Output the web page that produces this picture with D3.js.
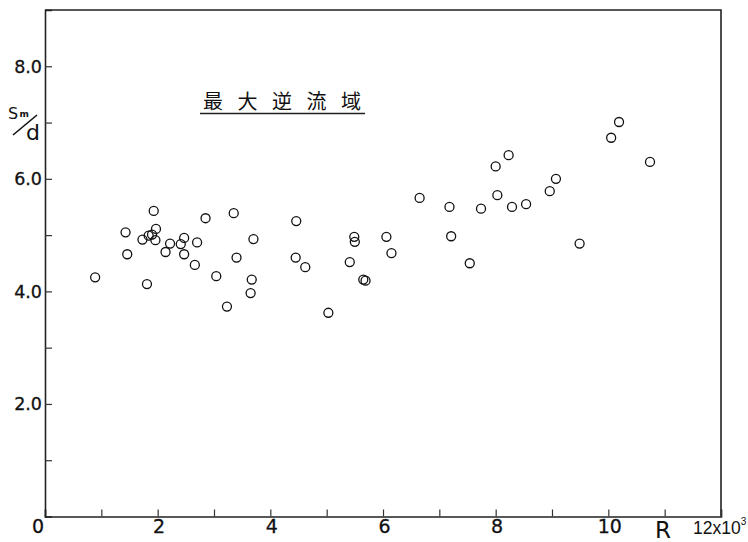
<!DOCTYPE html>
<html><head><meta charset="utf-8">
<script src="https://cdn.jsdelivr.net/npm/d3@7"></script>
<style>
body{margin:0;background:#fff;}
svg{display:block;}
</style></head>
<body>
<svg id="chart" width="748" height="542"></svg>
<script>
// Data: R (x10^3) and Sm/d
const rValues = [0.89,1.43,1.46,1.73,1.81,1.84,1.90,1.93,1.96,1.97,2.14,2.22,2.41,2.47,2.47,2.66,2.70,2.85,3.04,3.23,3.35,3.40,3.65,3.67,3.70,4.45,4.46,4.62,5.03,5.41,5.49,5.50,5.65,5.69,6.06,6.15,6.65,7.18,7.21,7.54,7.74,8.00,8.03,8.23,8.29,8.54,8.96,9.07,9.49,10.05,10.19,10.74];
const smdValues = [4.25,5.05,4.66,4.92,4.13,4.99,5.01,5.43,4.91,5.11,4.70,4.85,4.84,4.95,4.66,4.47,4.87,5.30,4.27,3.73,5.39,4.60,3.97,4.21,4.93,4.60,5.25,4.43,3.62,4.52,4.97,4.88,4.21,4.19,4.97,4.68,5.66,5.50,4.98,4.50,5.47,6.22,5.71,6.42,5.50,5.55,5.78,6.00,4.85,6.73,7.01,6.30];
const xTicks = [0,1,2,3,4,5,6,7,8,9,10,11,12];
const xTickLabels = ["0","2","4","6","8","10"];
const xTickLabelValues = [0,2,4,6,8,10];
const yTicks = [1,2,3,4,5,6,7,8];
const yTickLabels = ["2.0","4.0","6.0","8.0"];
const yTickLabelValues = [2,4,6,8];
const titleText = "最大逆流域";

const svg = d3.select("#chart");
const x = d3.scaleLinear().domain([0,12]).range([45,721]);
const y = d3.scaleLinear().domain([0,9]).range([516.5,10]);
const font = "'DejaVu Sans', sans-serif";

// frame (top & right)
svg.append("path")
  .attr("d", `M${x(0)},${y(9)}H${x(12)}V${y(0)}`)
  .attr("fill","none").attr("stroke","#222").attr("stroke-width",1.6);

// x axis
const gx = svg.append("g").attr("transform",`translate(0,${y(0)})`)
  .call(d3.axisBottom(x).tickValues(xTicks).tickSize(-7).tickFormat(""));
gx.select(".domain").attr("stroke","#222").attr("stroke-width",1.6);
gx.selectAll(".tick line").attr("stroke","#333").attr("stroke-width",1.2);

// y axis
const gy = svg.append("g").attr("transform",`translate(${x(0)},0)`)
  .call(d3.axisLeft(y).tickValues(yTicks).tickSize(-7).tickFormat(""));
gy.select(".domain").attr("stroke","#222").attr("stroke-width",1.6);
gy.selectAll(".tick line").attr("stroke","#333").attr("stroke-width",1.2);

// x tick labels
svg.append("g").selectAll("text").data(xTickLabelValues).join("text")
  .attr("x", (d)=> d===0 ? x(d)-7 : x(d)+1.5)
  .attr("y", 533)
  .attr("text-anchor","middle")
  .attr("font-family",font).attr("font-size",19).attr("fill","#111")
  .attr("stroke","#111").attr("stroke-width",0.3)
  .text((d,i)=>xTickLabels[i]);

// 12x10^3
const t12 = svg.append("text").attr("x", x(12)-28).attr("y",534)
  .attr("font-family","'Liberation Sans', sans-serif").attr("font-size",17.5).attr("fill","#111");
t12.append("tspan").text("12x10");
t12.append("tspan").attr("font-size",10).attr("dy",-9).text("3");

// R label
svg.append("text").attr("x", x(10.97)).attr("y",538).attr("text-anchor","middle")
  .attr("font-family",font).attr("font-size",23).attr("fill","#111").text("R");

// y tick labels
svg.append("g").selectAll("text").data(yTickLabelValues).join("text")
  .attr("x", x(0)-3)
  .attr("y", (d)=>y(d)+6.5)
  .attr("text-anchor","end")
  .attr("font-family",font).attr("font-size",17.5).attr("fill","#111")
  .attr("stroke","#111").attr("stroke-width",0.3)
  .text((d,i)=>yTickLabels[i]);

// y axis label Sm/d
svg.append("text").attr("x",8).attr("y",118.5)
  .attr("font-family",font).attr("font-size",16).attr("fill","#111").text("S");
svg.append("text").attr("x",19.5).attr("y",117)
  .attr("font-family",font).attr("font-size",9).attr("font-weight","bold").attr("fill","#111").text("m");
svg.append("line").attr("x1",13).attr("y1",135).attr("x2",37).attr("y2",115)
  .attr("stroke","#111").attr("stroke-width",1.6);
svg.append("text").attr("x",26).attr("y",140)
  .attr("font-family",font).attr("font-size",22).attr("fill","#111").text("d");

// title
svg.append("text").attr("x",203).attr("y",109)
  .attr("font-family","'Noto Sans CJK JP', sans-serif").attr("font-size",20)
  .attr("letter-spacing","14.5px").attr("fill","#111").text(titleText);
svg.append("line").attr("x1",200).attr("x2",365).attr("y1",113.5).attr("y2",113.5)
  .attr("stroke","#222").attr("stroke-width",1.6);

// points
svg.append("g").selectAll("circle").data(rValues).join("circle")
  .attr("cx",(d)=>x(d))
  .attr("cy",(d,i)=>y(smdValues[i]))
  .attr("r",4.5)
  .attr("fill","none").attr("stroke","#111").attr("stroke-width",1.3);
</script>
</body></html>
